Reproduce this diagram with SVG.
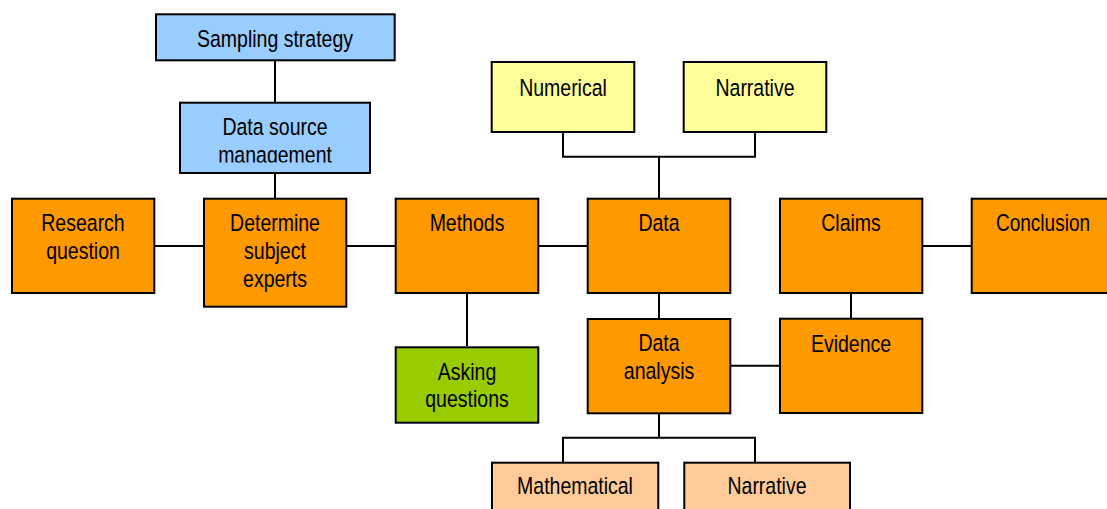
<svg xmlns="http://www.w3.org/2000/svg" width="1107" height="509" viewBox="0 0 1107 509">
  <style>
    .box { stroke: #000; stroke-width: 2; }
    .blue { fill: #99CCFF; }
    .orange { fill: #FF9900; }
    .yellow { fill: #FFFF99; }
    .green { fill: #99CC00; }
    .peach { fill: #FFCC99; }
    .lbl { font-family: "Liberation Sans", Arial, sans-serif; font-size: 23.5px; fill: #000; text-anchor: middle; }
    .wire { fill: none; stroke: #000; stroke-width: 2; }
  </style>
  <defs>
    <clipPath id="clipDsm"><rect x="180" y="102" width="190" height="60.5"/></clipPath>
  </defs>
  <rect width="1107" height="509" fill="#fff"/>

  <!-- connectors -->
  <g id="connectors" class="wire">
    <path d="M275 61V102M275 174V198"/>
    <path d="M155 246H203M347 246H395M539 246H587M923 246H971"/>
    <path d="M467 294V346"/>
    <path d="M659 294V318M851 294V318"/>
    <path d="M563 133V156.7H755V133M659 156.7V198"/>
    <path d="M659 414V437.7M563 462V437.7H755V462"/>
    <path d="M731 365.7H779"/>
  </g>

  <!-- nodes; labels are narrowed horizontally -->
  <g id="sampling-strategy">
    <rect class="box blue" x="156" y="14.3" width="238.7" height="46"/>
    <text class="lbl" transform="translate(275 46.7) scale(0.83 1)">Sampling strategy</text>
  </g>
  <g id="data-source-management">
    <rect class="box blue" x="180" y="102.7" width="190" height="70.3"/>
    <g clip-path="url(#clipDsm)">
      <text class="lbl" transform="translate(275 135) scale(0.83 1)">Data source</text>
      <text class="lbl" transform="translate(275 162.5) scale(0.83 1)">management</text>
    </g>
  </g>
  <g id="research-question">
    <rect class="box orange" x="12" y="198.7" width="142.3" height="94.3"/>
    <text class="lbl" transform="translate(83 231) scale(0.83 1)">Research</text>
    <text class="lbl" transform="translate(83 258.5) scale(0.83 1)">question</text>
  </g>
  <g id="determine-subject-experts">
    <rect class="box orange" x="204" y="198.7" width="142.3" height="108"/>
    <text class="lbl" transform="translate(275 231) scale(0.83 1)">Determine</text>
    <text class="lbl" transform="translate(275 259) scale(0.83 1)">subject</text>
    <text class="lbl" transform="translate(275 286.7) scale(0.83 1)">experts</text>
  </g>
  <g id="methods">
    <rect class="box orange" x="395.7" y="198.7" width="142.6" height="94.3"/>
    <text class="lbl" transform="translate(467 231) scale(0.83 1)">Methods</text>
  </g>
  <g id="data">
    <rect class="box orange" x="587.7" y="198.7" width="142.6" height="94.3"/>
    <text class="lbl" transform="translate(659 231) scale(0.83 1)">Data</text>
  </g>
  <g id="claims">
    <rect class="box orange" x="780" y="198.7" width="142.3" height="94.3"/>
    <text class="lbl" transform="translate(851 231) scale(0.83 1)">Claims</text>
  </g>
  <g id="conclusion">
    <rect class="box orange" x="971.7" y="198.7" width="142.6" height="94.3"/>
    <text class="lbl" transform="translate(1043 231) scale(0.81 1)">Conclusion</text>
  </g>
  <g id="numerical">
    <rect class="box yellow" x="491.7" y="62" width="142.6" height="70"/>
    <text class="lbl" transform="translate(563 95.5) scale(0.83 1)">Numerical</text>
  </g>
  <g id="narrative-data">
    <rect class="box yellow" x="683.7" y="62" width="142.6" height="70"/>
    <text class="lbl" transform="translate(755 95.5) scale(0.83 1)">Narrative</text>
  </g>
  <g id="asking-questions">
    <rect class="box green" x="395.7" y="347.3" width="142.6" height="75.4"/>
    <text class="lbl" transform="translate(467 380) scale(0.83 1)">Asking</text>
    <text class="lbl" transform="translate(467 406.7) scale(0.83 1)">questions</text>
  </g>
  <g id="data-analysis">
    <rect class="box orange" x="587.7" y="319" width="142.6" height="94.3"/>
    <text class="lbl" transform="translate(659 350.7) scale(0.83 1)">Data</text>
    <text class="lbl" transform="translate(659 379.3) scale(0.83 1)">analysis</text>
  </g>
  <g id="evidence">
    <rect class="box orange" x="780" y="318.7" width="142.3" height="94.3"/>
    <text class="lbl" transform="translate(851 351.5) scale(0.83 1)">Evidence</text>
  </g>
  <g id="mathematical">
    <rect class="box peach" x="492" y="462.7" width="166.3" height="60"/>
    <text class="lbl" transform="translate(575 494) scale(0.83 1)">Mathematical</text>
  </g>
  <g id="narrative-analysis">
    <rect class="box peach" x="684.3" y="462.7" width="165.7" height="60"/>
    <text class="lbl" transform="translate(767 494) scale(0.83 1)">Narrative</text>
  </g>
</svg>
